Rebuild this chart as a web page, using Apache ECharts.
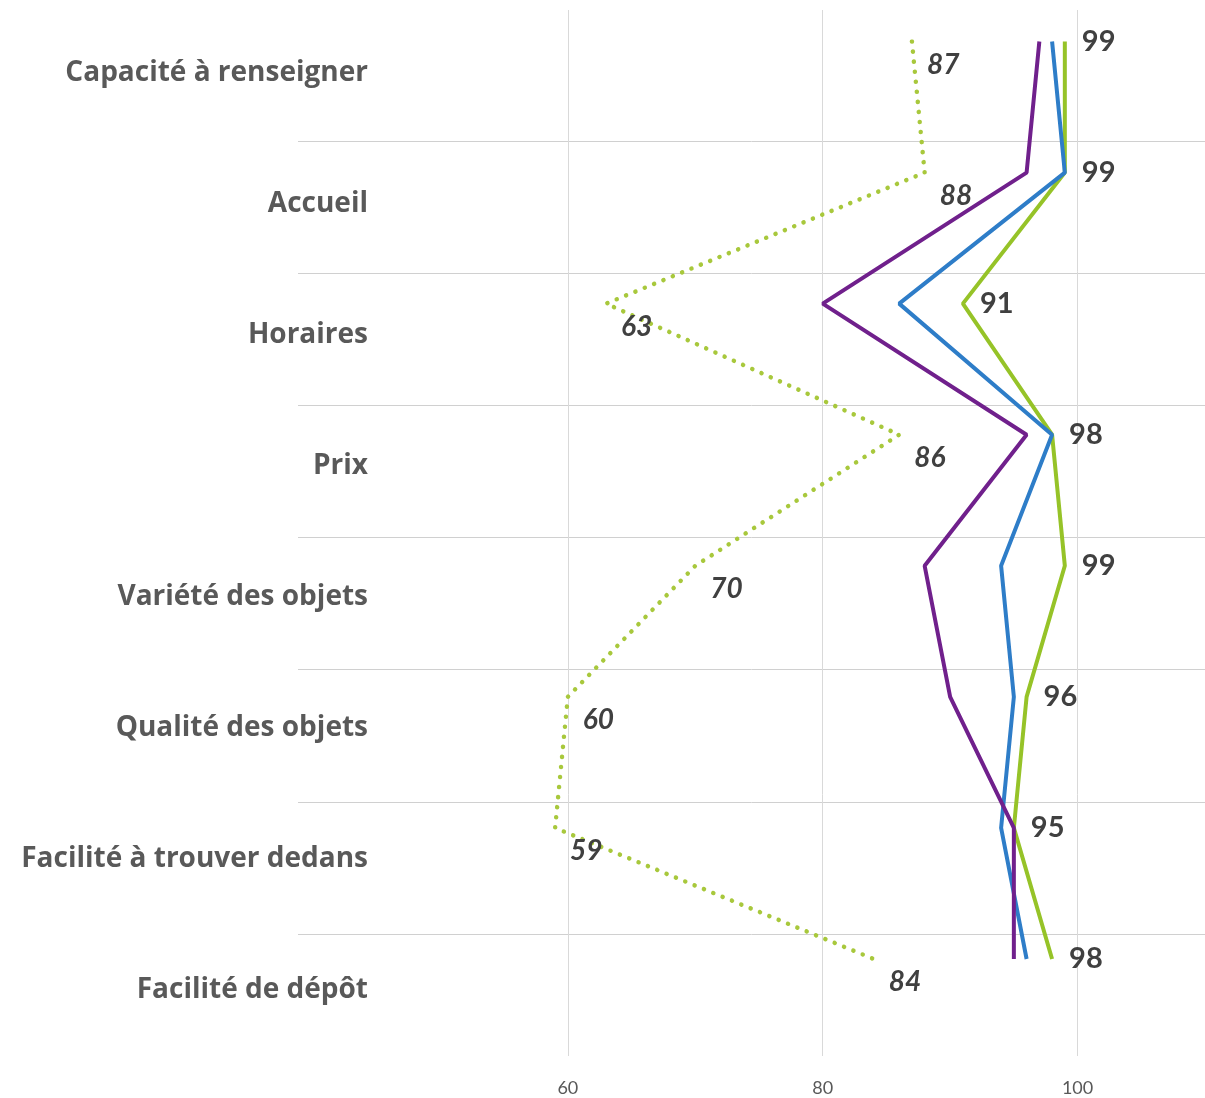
<!DOCTYPE html>
<html><head><meta charset="utf-8">
<script src="https://cdn.jsdelivr.net/npm/echarts@6/dist/echarts.min.js"></script>
<style>html,body{margin:0;padding:0;background:#fff}#c{width:1205px;height:1098px}</style>
</head><body><div id="c"></div>
<script>
const categories = ['Capacité à renseigner','Accueil','Horaires','Prix','Variété des objets','Qualité des objets','Facilité à trouver dedans','Facilité de dépôt'];
const greenSolid = [99, 99, 91, 98, 99, 96, 95, 98];
const greenDotted = [87, 88, 63, 86, 70, 60, 59, 84];
const blueLine = [98, 99, 86, 98, 94, 95, 94, 96];
const purpleLine = [97, 96, 80, 96, 88, 90, 95, 95];
const xTicks = [60, 80, 100];

const FONT = 'Lato';
const CAT_FONT = 'Open Sans';
const chart = echarts.init(document.getElementById('c'), null, {renderer:'canvas'});
const xLeft = 313, xWidth = 894;
chart.setOption({
  animation:false,
  backgroundColor:'#ffffff',
  grid:[
    {left:xLeft, width:xWidth, top:41.5, height:917.5},
    {left:xLeft, width:xWidth, top:10, bottom:42},
    {left:298, right:0, top:141, bottom:164},
    {left:xLeft, width:xWidth, top:73, height:917.5}
  ],
  xAxis:[
    {gridIndex:0, type:'value', min:40, max:110, show:false},
    {gridIndex:1, type:'value', min:40, max:110,
      axisLine:{show:false}, axisTick:{show:false, customValues:xTicks},
      axisLabel:{customValues:xTicks, margin:23, fontFamily:FONT, fontSize:18, color:'#595959'},
      splitLine:{show:true, lineStyle:{color:'#d9d9d9', width:1}}},
    {gridIndex:2, type:'value', min:0, max:1, show:false},
    {gridIndex:3, type:'value', min:0, max:1, show:false}
  ],
  yAxis:[
    {gridIndex:0, type:'category', data:categories, inverse:true, boundaryGap:false, show:false},
    {gridIndex:1, type:'value', min:0, max:1, show:false},
    {gridIndex:2, type:'value', min:0, max:6, interval:1,
      axisLine:{show:false}, axisTick:{show:false}, axisLabel:{show:false},
      splitLine:{show:true, lineStyle:{color:'#d0d0d0', width:1}}},
    {gridIndex:3, type:'category', data:categories, inverse:true, boundaryGap:false,
      axisLine:{show:false}, axisTick:{show:false}, splitLine:{show:false},
      axisLabel:{interval:0, margin:-55, fontFamily:CAT_FONT, fontSize:28, fontWeight:'bold', color:'#595959'}}
  ],
  series:[
    {type:'line', name:'dotted', xAxisIndex:0, yAxisIndex:0, data:greenDotted,
      symbol:'circle', symbolSize:0, z:3,
      lineStyle:{color:'#a8c83c', width:4.5, type:[0.1, 10], cap:'round'},
      itemStyle:{color:'#a8c83c'},
      label:{show:true, position:'right', distance:15, offset:[0,23], fontFamily:FONT, fontSize:28,
        fontWeight:'bold', fontStyle:'italic', color:'#404040'}},
    {type:'line', name:'green', xAxisIndex:0, yAxisIndex:0, data:greenSolid,
      symbol:'circle', symbolSize:0, z:3,
      lineStyle:{color:'#96c328', width:4}, itemStyle:{color:'#96c328'},
      label:{show:true, position:'right', distance:17, fontFamily:FONT, fontSize:29,
        fontWeight:'bold', color:'#404040'}},
    {type:'line', name:'blue', xAxisIndex:0, yAxisIndex:0, data:blueLine,
      symbol:'none', z:4,
      lineStyle:{color:'#2e7dc8', width:4}},
    {type:'line', name:'purple', xAxisIndex:0, yAxisIndex:0, data:purpleLine,
      symbol:'none', z:5,
      lineStyle:{color:'#70208c', width:4}}
  ]
});
</script></body></html>
